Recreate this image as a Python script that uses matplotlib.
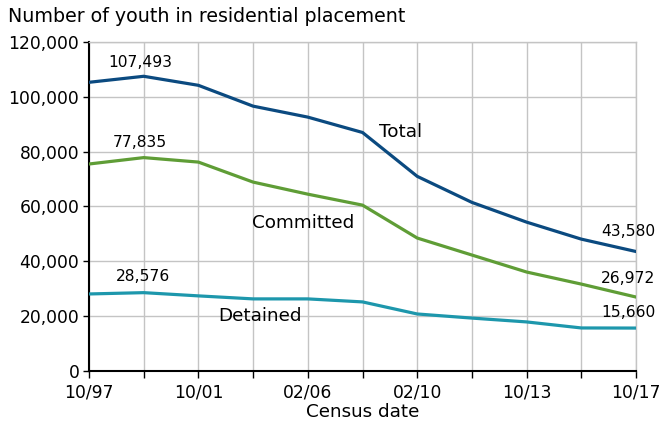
import matplotlib
matplotlib.use("Agg")
import matplotlib.pyplot as plt

dates = ["10/97", "10/99", "10/01", "10/03", "02/06", "10/07", "02/10", "10/11", "10/13", "10/15", "10/17"]
tick_labels = ["10/97", "", "10/01", "", "02/06", "", "02/10", "", "10/13", "", "10/17"]
total = [105300, 107493, 104200, 96600, 92600, 87000, 71000, 61500, 54300, 48100, 43580]
committed = [75500, 77835, 76200, 68900, 64500, 60500, 48500, 42300, 36100, 31700, 26972]
detained = [28100, 28576, 27400, 26300, 26300, 25200, 20800, 19300, 17900, 15700, 15660]

plt.rcParams['font.family'] = ['DejaVu Sans']
fs_tick = 12.3
fs_lab = 13.2
fs_num = 11.2
fs_title = 13.7

fig = plt.figure(figsize=(6.61, 4.32), dpi=100)
ax = fig.add_axes([89/661, 61/432, (636-89)/661, (371-42)/432])

x = list(range(len(dates)))
c_total = "#0b4a80"
c_comm = "#5f9d36"
c_det = "#1d97ac"
ax.plot(x, total, color=c_total, lw=2.3, solid_joinstyle='round', zorder=3)
ax.plot(x, committed, color=c_comm, lw=2.3, solid_joinstyle='round', zorder=3)
ax.plot(x, detained, color=c_det, lw=2.3, solid_joinstyle='round', zorder=3)

ax.set_xlim(0, 10)
ax.set_ylim(0, 120000)
ax.set_xticks(x)
ax.set_xticklabels(tick_labels, fontsize=fs_tick)
ax.set_yticks(range(0, 120001, 20000))
ax.set_yticklabels([f"{v:,}" for v in range(0, 120001, 20000)], fontsize=fs_tick)
ax.grid(True, color="#c4c4c4", lw=1)
ax.set_axisbelow(True)
for s in ["top", "right"]:
    ax.spines[s].set_color("#c4c4c4")
    ax.spines[s].set_linewidth(1)
for s in ["left", "bottom"]:
    ax.spines[s].set_color("black")
    ax.spines[s].set_linewidth(1.5)
ax.tick_params(axis="x", direction="out", length=5, width=1, pad=4)
ax.tick_params(axis="y", direction="out", length=4, width=1, pad=3)
ax.set_xlabel("Census date", fontsize=fs_lab, labelpad=1)

fig.text(8/661, 1-17/432, "Number of youth in residential placement", fontsize=fs_title, va="center", ha="left")

ax.text(0.93, 112700, f"{total[1]:,}", fontsize=fs_num, ha="center", va="center")
ax.text(0.93, 83200, f"{committed[1]:,}", fontsize=fs_num, ha="center", va="center")
ax.text(0.99, 34300, f"{detained[1]:,}", fontsize=fs_num, ha="center", va="center")
ax.text(5.69, 87200, "Total", fontsize=fs_lab, ha="center", va="center")
ax.text(3.91, 54000, "Committed", fontsize=fs_lab, ha="center", va="center")
ax.text(3.13, 20100, "Detained", fontsize=fs_lab, ha="center", va="center")
ax.text(10.35, 50700, f"{total[-1]:,}", fontsize=fs_num, ha="right", va="center", clip_on=False)
ax.text(10.35, 33600, f"{committed[-1]:,}", fontsize=fs_num, ha="right", va="center", clip_on=False)
ax.text(10.35, 21200, f"{detained[-1]:,}", fontsize=fs_num, ha="right", va="center", clip_on=False)

fig.savefig("out.png", dpi=100)
